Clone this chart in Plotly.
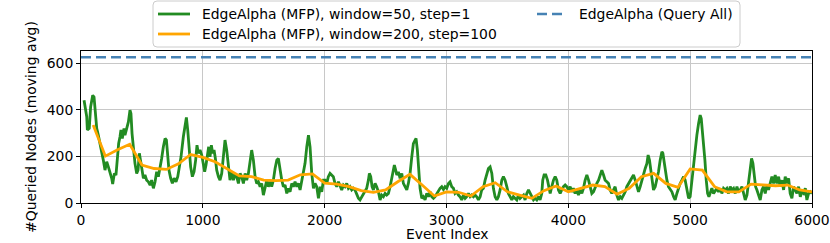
import plotly.graph_objects as go

green_x = [25, 47, 52, 68, 79, 96, 107, 118, 129, 142, 156, 170, 183, 197, 211, 224, 238, 252, 260, 274,
           287, 298, 309, 320, 328, 339, 353, 361, 375, 389, 402, 410, 419, 430, 443, 457, 468, 479, 490, 501,
           512, 525, 539, 553, 567, 580, 594, 608, 621, 635, 649, 662, 676, 690, 701, 711, 722, 736, 750, 764,
           780, 794, 807, 821, 840, 854, 865, 876, 887, 900, 914, 928, 941, 952, 963, 977, 991, 1004, 1015, 1026,
           1037, 1048, 1059, 1070, 1081, 1092, 1103, 1114, 1128, 1141, 1155, 1169, 1182, 1196, 1210, 1223, 1237, 1251, 1264, 1278,
           1292, 1306, 1319, 1333, 1347, 1360, 1374, 1388, 1401, 1415, 1429, 1442, 1456, 1470, 1483, 1497, 1511, 1525, 1538, 1552,
           1565, 1579, 1593, 1607, 1620, 1634, 1648, 1661, 1675, 1689, 1702, 1716, 1730, 1743, 1757, 1771, 1784, 1798, 1812, 1826,
           1839, 1853, 1867, 1880, 1894, 1908, 1921, 1935, 1949, 1963, 1976, 1990, 2003, 2017, 2030, 2044, 2058, 2071, 2085, 2099,
           2113, 2126, 2140, 2154, 2167, 2181, 2195, 2208, 2222, 2236, 2249, 2263, 2277, 2290, 2304, 2318, 2331, 2345, 2359, 2367,
           2378, 2389, 2400, 2414, 2427, 2441, 2455, 2468, 2482, 2496, 2509, 2523, 2537, 2550, 2564, 2572, 2583, 2592, 2605, 2619,
           2633, 2646, 2660, 2674, 2687, 2701, 2715, 2728, 2742, 2750, 2761, 2772, 2783, 2797, 2810, 2824, 2838, 2852, 2865, 2879,
           2893, 2906, 2920, 2934, 2947, 2961, 2975, 2988, 3002, 3016, 3029, 3043, 3057, 3070, 3084, 3098, 3111, 3125, 3139, 3153,
           3166, 3180, 3194, 3207, 3221, 3235, 3248, 3262, 3276, 3289, 3303, 3317, 3330, 3344, 3358, 3372, 3385, 3399, 3413, 3426,
           3440, 3454, 3467, 3481, 3495, 3508, 3522, 3536, 3549, 3563, 3577, 3591, 3604, 3618, 3632, 3645, 3659, 3673, 3686, 3700,
           3714, 3727, 3741, 3755, 3768, 3782, 3790, 3801, 3815, 3829, 3840, 3851, 3864, 3878, 3892, 3905, 3919, 3933, 3946, 3960,
           3974, 3987, 4001, 4015, 4029, 4042, 4056, 4070, 4083, 4097, 4111, 4124, 4138, 4152, 4166, 4179, 4193, 4207, 4220, 4234,
           4248, 4261, 4275, 4289, 4302, 4316, 4330, 4343, 4357, 4371, 4384, 4398, 4412, 4426, 4439, 4453, 4467, 4480, 4494, 4508,
           4521, 4535, 4549, 4562, 4576, 4590, 4603, 4617, 4631, 4645, 4655, 4666, 4677, 4688, 4699, 4713, 4727, 4740, 4754, 4768,
           4776, 4787, 4798, 4809, 4822, 4836, 4850, 4864, 4877, 4891, 4905, 4918, 4932, 4946, 4959, 4973, 4987, 5000, 5014, 5028,
           5041, 5055, 5069, 5082, 5091, 5099, 5110, 5121, 5132, 5143, 5154, 5165, 5178, 5192, 5206, 5219, 5233, 5247, 5260, 5274,
           5288, 5301, 5315, 5329, 5342, 5356, 5370, 5384, 5397, 5411, 5425, 5438, 5452, 5466, 5479, 5493, 5504, 5515, 5526, 5537,
           5548, 5561, 5575, 5589, 5602, 5616, 5630, 5643, 5657, 5671, 5685, 5698, 5712, 5726, 5739, 5753, 5767, 5780, 5794, 5808,
           5821, 5835, 5849, 5862, 5876, 5890, 5904, 5917, 5931, 5945, 5958, 5972, 5986, 6000]
green_y = [441, 370, 313, 320, 412, 462, 455, 398, 320, 291, 255, 227, 184, 141, 177, 156, 134, 106, 81, 127,
           120, 198, 255, 284, 313, 277, 320, 291, 320, 348, 398, 384, 298, 227, 170, 127, 141, 213, 170, 134,
           106, 120, 98, 91, 77, 98, 63, 91, 134, 113, 148, 191, 241, 277, 270, 213, 141, 106, 84, 106,
           91, 113, 148, 198, 284, 341, 367, 313, 227, 155, 113, 134, 184, 248, 213, 227, 206, 170, 134, 163,
           213, 241, 198, 248, 213, 227, 191, 141, 113, 98, 127, 206, 270, 227, 155, 98, 134, 98, 120, 113,
           84, 127, 113, 84, 127, 98, 127, 191, 227, 184, 113, 84, 91, 70, 84, 34, 70, 98, 70, 91,
           70, 98, 148, 184, 191, 134, 98, 70, 77, 41, 63, 48, 84, 70, 91, 70, 84, 56, 98, 127,
           170, 241, 291, 241, 127, 63, 84, 70, 20, 70, 48, 98, 98, 84, 113, 127, 120, 113, 84, 70,
           91, 70, 56, 77, 70, 84, 63, 70, 56, 63, 56, 38, 20, 13, 27, 41, 48, 63, 98, 127,
           113, 70, 56, 84, 70, 48, 13, 34, 27, 41, 34, 41, 70, 106, 134, 163, 141, 120, 134, 106,
           127, 84, 70, 56, 84, 127, 198, 255, 270, 277, 227, 141, 63, 20, 27, 13, 41, 27, 48, 27,
           20, 27, 41, 56, 63, 70, 58, 70, 63, 84, 91, 70, 63, 41, 48, 34, 27, 13, 34, 20,
           27, 41, 27, 34, 27, 34, 27, 13, 27, 56, 63, 98, 127, 148, 155, 127, 63, 27, 13, 27,
           56, 98, 113, 98, 70, 41, 27, 13, 27, 20, 13, 34, 20, 27, 34, 13, 41, 56, 41, 27,
           13, 20, 13, 27, 13, 41, 98, 120, 120, 98, 70, 41, 70, 98, 113, 98, 56, 41, 56, 70,
           77, 70, 56, 70, 48, 63, 41, 56, 34, 56, 41, 63, 98, 120, 98, 70, 41, 48, 70, 84,
           98, 120, 141, 120, 98, 91, 84, 56, 41, 56, 70, 34, 13, 27, 20, 34, 48, 70, 84, 98,
           106, 120, 98, 70, 48, 70, 98, 127, 148, 170, 206, 184, 141, 84, 56, 70, 98, 134, 184, 220,
           213, 170, 127, 98, 70, 56, 48, 27, 13, 41, 70, 84, 98, 113, 98, 63, 20, 27, 98, 170,
           241, 291, 341, 377, 362, 320, 255, 184, 98, 41, 27, 48, 63, 41, 56, 63, 48, 63, 41, 63,
           56, 63, 41, 70, 56, 63, 41, 70, 48, 56, 70, 41, 13, 34, 98, 155, 191, 170, 113, 70,
           56, 34, 13, 56, 70, 41, 77, 56, 84, 113, 84, 120, 84, 113, 70, 98, 56, 113, 84, 106,
           41, 20, 70, 56, 41, 70, 27, 48, 41, 63, 13, 41, 48, 41]

# Orange: moving average, window=200, step=100
orange_x = [100, 200, 300, 400, 500, 600, 700, 800, 900, 1000, 1100, 1200, 1300, 1400, 1500, 1600, 1700, 1800, 1900, 2000,
            2100, 2200, 2300, 2400, 2500, 2600, 2700, 2800, 2900, 3000, 3100, 3200, 3300, 3400, 3500, 3600, 3700, 3800, 3900, 4000,
            4100, 4200, 4300, 4400, 4500, 4600, 4700, 4800, 4900, 5000, 5100, 5200, 5300, 5400, 5500, 5600, 5700, 5800, 5900, 6000]
orange_y = [335, 201, 228, 252, 163, 148, 144, 168, 208, 196, 177, 148, 116, 113, 98, 96, 98, 121, 125, 85,
            81, 70, 53, 46, 56, 91, 123, 77, 30, 48, 46, 30, 70, 87, 48, 34, 20, 53, 73, 48,
            63, 77, 70, 38, 63, 113, 127, 84, 67, 146, 141, 70, 48, 48, 81, 77, 74, 77, 56, 48]

# Blue: query all (constant)
blue_x = [0, 6000]
blue_y = [625, 625]

names = ["EdgeAlpha (MFP), window=50, step=1",
         "EdgeAlpha (MFP), window=200, step=100",
         "EdgeAlpha (Query All)"]
colors = ["#228B22", "#FFA500", "#4682B4"]
dashes = ["solid", "solid", "10px,5px"]

x_ticks = [0, 1000, 2000, 3000, 4000, 5000, 6000]
y_ticks = [0, 200, 400, 600]

FONT = "DejaVu Sans"
FS = 13.9
W, H = 830, 243
L, R, T, B = 81, 18, 51, 40
PW, PH = W - L - R, H - T - B


def X(px):
    return (px - L) / PW


def Y(py):
    return (H - B - py) / PH


fig = go.Figure()
fig.add_trace(go.Scatter(x=green_x, y=green_y, mode="lines", name=names[0],
                         line=dict(color=colors[0], width=2.8), showlegend=False))
fig.add_trace(go.Scatter(x=orange_x, y=orange_y, mode="lines", name=names[1],
                         line=dict(color=colors[1], width=2.8), showlegend=False))
fig.add_trace(go.Scatter(x=blue_x, y=blue_y, mode="lines", name=names[2],
                         line=dict(color=colors[2], width=2.5, dash=dashes[2]), showlegend=False))

axis_common = dict(showline=True, linecolor="black", linewidth=1, mirror=True,
                   ticks="outside", ticklen=4, tickcolor="black", tickwidth=1,
                   showgrid=True, gridcolor="#c8c8c8", gridwidth=1, zeroline=False,
                   automargin=False,
                   tickfont=dict(family=FONT, size=FS, color="black"))

# legend frame with rounded corners (paper coords)
bx0, bx1, by0, by1 = 153, 740, 1, 47
r = 4
frame = (f"M {X(bx0 + r)},{Y(by0)} L {X(bx1 - r)},{Y(by0)} Q {X(bx1)},{Y(by0)} {X(bx1)},{Y(by0 + r)} "
         f"L {X(bx1)},{Y(by1 - r)} Q {X(bx1)},{Y(by1)} {X(bx1 - r)},{Y(by1)} "
         f"L {X(bx0 + r)},{Y(by1)} Q {X(bx0)},{Y(by1)} {X(bx0)},{Y(by1 - r)} "
         f"L {X(bx0)},{Y(by0 + r)} Q {X(bx0)},{Y(by0)} {X(bx0 + r)},{Y(by0)} Z")
shapes = [dict(type="path", path=frame, xref="paper", yref="paper",
               line=dict(color="#cccccc", width=1), fillcolor="white", layer="above")]

# legend entries: (handle x0, handle x1, text x, row y)
entries = [(158, 190, 200, 14), (158, 190, 200, 34), (537, 567, 577, 14)]
annotations = []
for i, (hx0, hx1, tx, ry) in enumerate(entries):
    shapes.append(dict(type="line", xref="paper", yref="paper",
                       x0=X(hx0), x1=X(hx1), y0=Y(ry), y1=Y(ry),
                       line=dict(color=colors[i], width=2.8 if i < 2 else 2.5, dash=dashes[i]),
                       layer="above"))
    annotations.append(dict(text=names[i], xref="paper", yref="paper", x=X(tx), y=Y(ry),
                            xanchor="left", yanchor="middle", showarrow=False,
                            font=dict(family=FONT, size=FS, color="black")))

# x-axis title placed as an annotation (centre of plot, below tick labels)
annotations.append(dict(text="Event Index", xref="paper", yref="paper", x=0.5, y=Y(234),
                        xanchor="center", yanchor="middle", showarrow=False,
                        font=dict(family=FONT, size=FS, color="black")))

fig.update_layout(
    width=W, height=H,
    margin=dict(l=L, r=R, t=T, b=B),
    paper_bgcolor="white", plot_bgcolor="white",
    font=dict(family=FONT, size=FS, color="black"),
    showlegend=False,
    xaxis=dict(range=[0, 6000], tickvals=x_ticks, **axis_common),
    yaxis=dict(range=[0, 652], tickvals=y_ticks,
               title=dict(text="#Queried Nodes (moving avg)", font=dict(family=FONT, size=FS), standoff=6),
               **axis_common),
    shapes=shapes,
    annotations=annotations,
)

fig.write_html("out.html", config={"displayModeBar": False},
               post_script="document.body.style.margin='0';document.body.style.overflow='hidden';")
